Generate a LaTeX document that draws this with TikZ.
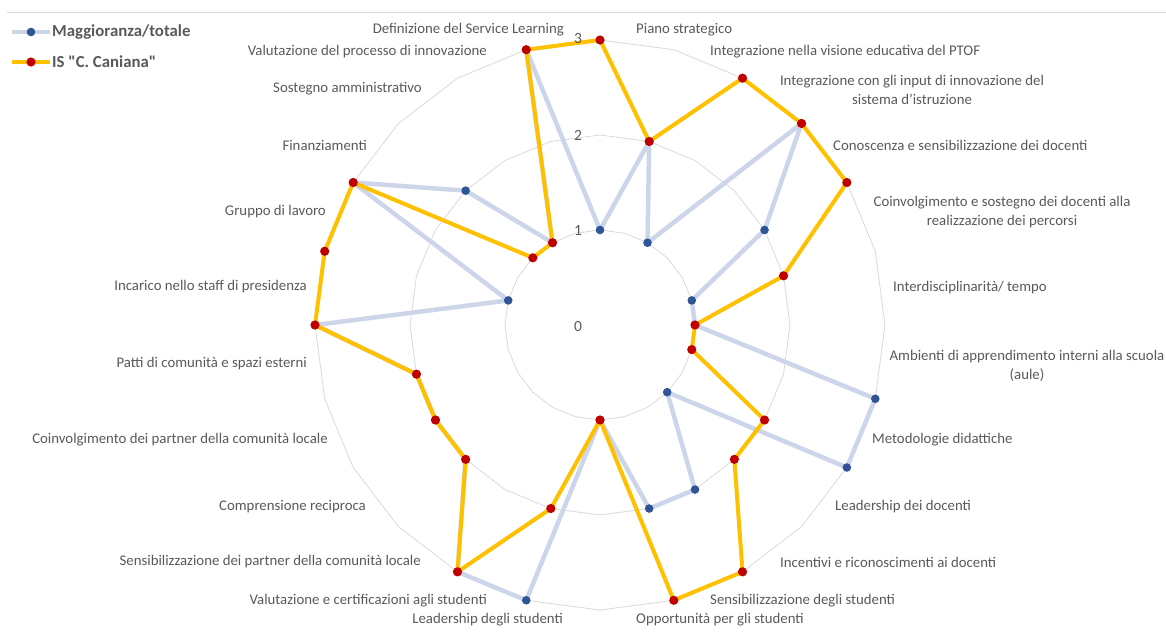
\documentclass[tikz,border=0pt]{standalone}
\usepackage{fontspec}
\setmainfont{Carlito}[Ligatures=TeXOff]
\definecolor{gridgray}{HTML}{D9D9D9}
\definecolor{labelgray}{HTML}{595959}
\definecolor{majline}{HTML}{CDD5EA}
\definecolor{majdot}{HTML}{2F5597}
\definecolor{schline}{HTML}{FFC000}
\definecolor{schdot}{HTML}{C00000}
\tikzset{
  lbl/.style={font=\fontsize{14.8}{19}\selectfont, text=labelgray, inner sep=0pt},
  ticklbl/.style={font=\fontsize{15.5}{15.5}\selectfont, text=labelgray, inner sep=0pt},
  legtext/.style={font=\fontsize{16.8}{16.8}\selectfont\bfseries, text=labelgray, inner sep=0pt, anchor=west},
  ring/.style={draw=gridgray, line width=0.8pt},
  majpoly/.style={draw=majline, line width=4.5pt, line join=round},
  schpoly/.style={draw=schline, line width=4pt, line join=round},
}
\begin{document}
\begin{tikzpicture}[x=1pt,y=-1pt]
\useasboundingbox (0,0) rectangle (1166,637);
\draw[gridgray, line width=0.8pt] (7,12) -- (1166,12);

% grid and series
\begin{scope}[shift={(600,325)}]
\foreach \r in {95,190,285}
  \draw[ring] (-90:\r) \foreach \a in {15,30,...,345} { -- ({\a-90}:\r)} -- cycle;
\foreach \v [count=\i from 0] in {1,2,1,3,2,1,1,3,3,1,2,2,1,3,3,2,2,2,3,1,3,2,1,3}
  \coordinate (b\i) at ({15*\i-90}:{95*\v});
\foreach \v [count=\i from 0] in {3,2,3,3,3,2,1,1,2,2,3,3,1,2,3,2,2,2,3,3,3,1,1,3}
  \coordinate (r\i) at ({15*\i-90}:{95*\v});
\draw[majpoly] (b0) \foreach \i in {1,...,23} {-- (b\i)} -- cycle;
\foreach \i in {0,...,23} \fill[majdot] (b\i) circle (4.3);
\draw[schpoly] (r0) \foreach \i in {1,...,23} {-- (r\i)} -- cycle;
\foreach \i in {0,...,23} \fill[schdot] (r\i) circle (4.6);
\end{scope}

% scale values
\node[ticklbl] (t0) at (578,327) {0};
\node[ticklbl] (t1) at (578,231) {1};
\node[ticklbl] (t2) at (578,135) {2};
\node[ticklbl] (t3) at (578,39) {3};

% category labels
\node[lbl, anchor=west] (lab0) at (636,30) {Piano strategico};
\node[lbl, anchor=west] (lab1) at (710,52) {Integrazione nella visione educativa del PTOF};
\node[lbl, align=center] (lab2) at (912,90) {Integrazione con gli input di innovazione del\\sistema d’istruzione};
\node[lbl, anchor=west] (lab3) at (833,145) {Conoscenza e sensibilizzazione dei docenti};
\node[lbl, align=center] (lab4) at (1002,212) {Coinvolgimento e sostegno dei docenti alla\\realizzazione dei percorsi};
\node[lbl, anchor=west] (lab5) at (893,288) {Interdisciplinarità/ tempo};
\node[lbl, align=center] (lab6) at (1027,366) {Ambienti di apprendimento interni alla scuola\\(aule)};
\node[lbl, anchor=west] (lab7) at (872,440) {Metodologie didattiche};
\node[lbl, anchor=west] (lab8) at (835,507) {Leadership dei docenti};
\node[lbl, anchor=west] (lab9) at (780,562) {Incentivi e riconoscimenti ai docenti};
\node[lbl, anchor=west] (lab10) at (710,601) {Sensibilizzazione degli studenti};
\node[lbl, anchor=west] (lab11) at (636,620) {Opportunità per gli studenti};
\node[lbl, anchor=east] (lab12) at (563,620) {Leadership degli studenti};
\node[lbl, anchor=east] (lab13) at (487,601) {Valutazione e certificazioni agli studenti};
\node[lbl, anchor=east] (lab14) at (421,562) {Sensibilizzazione dei partner della comunità locale};
\node[lbl, anchor=east] (lab15) at (366,507) {Comprensione reciproca};
\node[lbl, anchor=east] (lab16) at (328,440) {Coinvolgimento dei partner della comunità locale};
\node[lbl, anchor=east] (lab17) at (307,364) {Patti di comunità e spazi esterni};
\node[lbl, anchor=east] (lab18) at (307,287) {Incarico nello staff di presidenza};
\node[lbl, anchor=east] (lab19) at (326,212) {Gruppo di lavoro};
\node[lbl, anchor=east] (lab20) at (367,145) {Finanziamenti};
\node[lbl, anchor=east] (lab21) at (422,89) {Sostegno amministrativo};
\node[lbl, anchor=east] (lab22) at (487,52) {Valutazione del processo di innovazione};
\node[lbl, anchor=east] (lab23) at (564,30) {Definizione del Service Learning};

% legend
\coordinate (legAs) at (12,32);
\coordinate (legAe) at (50,32);
\coordinate (legBs) at (12,62);
\coordinate (legBe) at (50,62);
\draw[majline, line width=4.5pt] (legAs) -- (legAe);
\fill[majdot] (31,32) circle (4.3);
\node[legtext] (legA) at (52,32) {Maggioranza/totale};
\draw[schline, line width=4pt] (legBs) -- (legBe);
\fill[schdot] (31,62) circle (4.6);
\node[legtext] (legB) at (52,62) {IS "C. Caniana"};
\end{tikzpicture}
\end{document}
